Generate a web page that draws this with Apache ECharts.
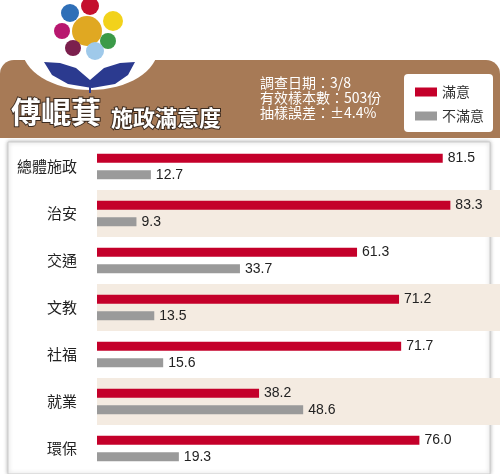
<!DOCTYPE html>
<html><head><meta charset="utf-8">
<script src="https://cdn.jsdelivr.net/npm/echarts@6/dist/echarts.min.js"></script>
<style>html,body{margin:0;padding:0;background:#fff}#c{width:500px;height:474px}</style>
</head><body><div id="c"></div>
<script>
const categories=['總體施政','治安','交通','文教','社福','就業','環保'];
const satisfied=[81.5,83.3,61.3,71.2,71.7,38.2,76.0];
const unsatisfied=[12.7,9.3,33.7,13.5,15.6,48.6,19.3];
const seriesNames=['滿意','不滿意'];
const infoLines=['調查日期：3/8','有效樣本數：503份','抽樣誤差：±4.4%'];
const F='"Noto Sans CJK TC","Noto Sans CJK SC",sans-serif';
const chart=echarts.init(document.getElementById('c'));
const petals=[[90,6,9,'#c4102e'],[70,13,9,'#2f6fb7'],[113,21,10,'#f2d21b'],[62,31,8,'#b8176f'],[108,41,8,'#3b9a48'],[73,48,8,'#7b1f4d'],[95,51,9,'#9fc9ea']];
const g=[
 {type:'rect',shape:{x:0,y:60,width:500,height:78,r:[14,14,0,0]},style:{fill:'#a77a56'},z:0},
 {type:'ellipse',shape:{cx:90,cy:48,rx:68,ry:42},style:{fill:'#fff'},z:1},
 {type:'circle',shape:{cx:87,cy:31,r:15},style:{fill:'#e0a822'},z:2},
 ...petals.map(p=>({type:'circle',shape:{cx:p[0],cy:p[1],r:p[2]},style:{fill:p[3]},z:2})),
 {type:'polygon',shape:{points:[[44,62],[60,63],[76,68],[90,80],[104,68],[120,63],[135,62],[128,75],[115,84],[92,88],[68,84],[52,75]]},style:{fill:'#2b3a8f'},z:2},
 {type:'line',shape:{x1:90,y1:80,x2:90,y2:93},style:{stroke:'#2b3a8f',lineWidth:2},z:2},
 {type:'text',left:10,top:96,style:{text:'傅崐萁',font:'bold 30px '+F,fill:'#fff',stroke:'#3a2a1f',lineWidth:2},z:3},
 {type:'text',left:110,top:106,style:{text:'施政滿意度',font:'bold 22px '+F,fill:'#fff',stroke:'#3a2a1f',lineWidth:2},z:3},
 ...infoLines.map((t,i)=>({type:'text',left:260,top:76+i*15,style:{text:t,font:'14px '+F,fill:'#fff'},z:3})),
 {type:'rect',shape:{x:404,y:74,width:89,height:58,r:4},style:{fill:'#fff'},z:3},
 {type:'rect',shape:{x:8,y:142,width:482,height:332},style:{fill:'#fff',stroke:'#ccc',lineWidth:1,shadowBlur:4,shadowColor:'rgba(0,0,0,0.3)'},z:-1}
];
chart.setOption({
 animation:false,
 graphic:g,
 legend:{orient:'vertical',left:410,top:80,itemWidth:22,itemHeight:9,itemGap:10,data:seriesNames,textStyle:{fontFamily:F,fontSize:14,color:'#333'},icon:'rect',z:5},
 grid:{left:97,width:403,top:143,bottom:2,containLabel:false},
 xAxis:{type:'value',min:0,max:95,show:false},
 yAxis:{type:'category',data:categories,inverse:true,axisLine:{show:false},axisTick:{show:false},
   axisLabel:{fontFamily:F,fontSize:15,color:'#222',margin:20},
   splitArea:{show:true,areaStyle:{color:['rgba(255,255,255,0)','#f4ebe1']}}},
 series:[
  {name:seriesNames[0],type:'bar',data:satisfied,barWidth:9,barGap:'85%',itemStyle:{color:'#c4002a'},
   label:{show:true,position:'right',fontFamily:'Arial,Liberation Sans',fontSize:14,color:'#222',formatter:p=>p.value.toFixed(1)}},
  {name:seriesNames[1],type:'bar',data:unsatisfied,barWidth:9,itemStyle:{color:'#9a9a9a'},
   label:{show:true,position:'right',fontFamily:'Arial,Liberation Sans',fontSize:14,color:'#222',formatter:p=>p.value.toFixed(1)}}
 ]
});
</script></body></html>
